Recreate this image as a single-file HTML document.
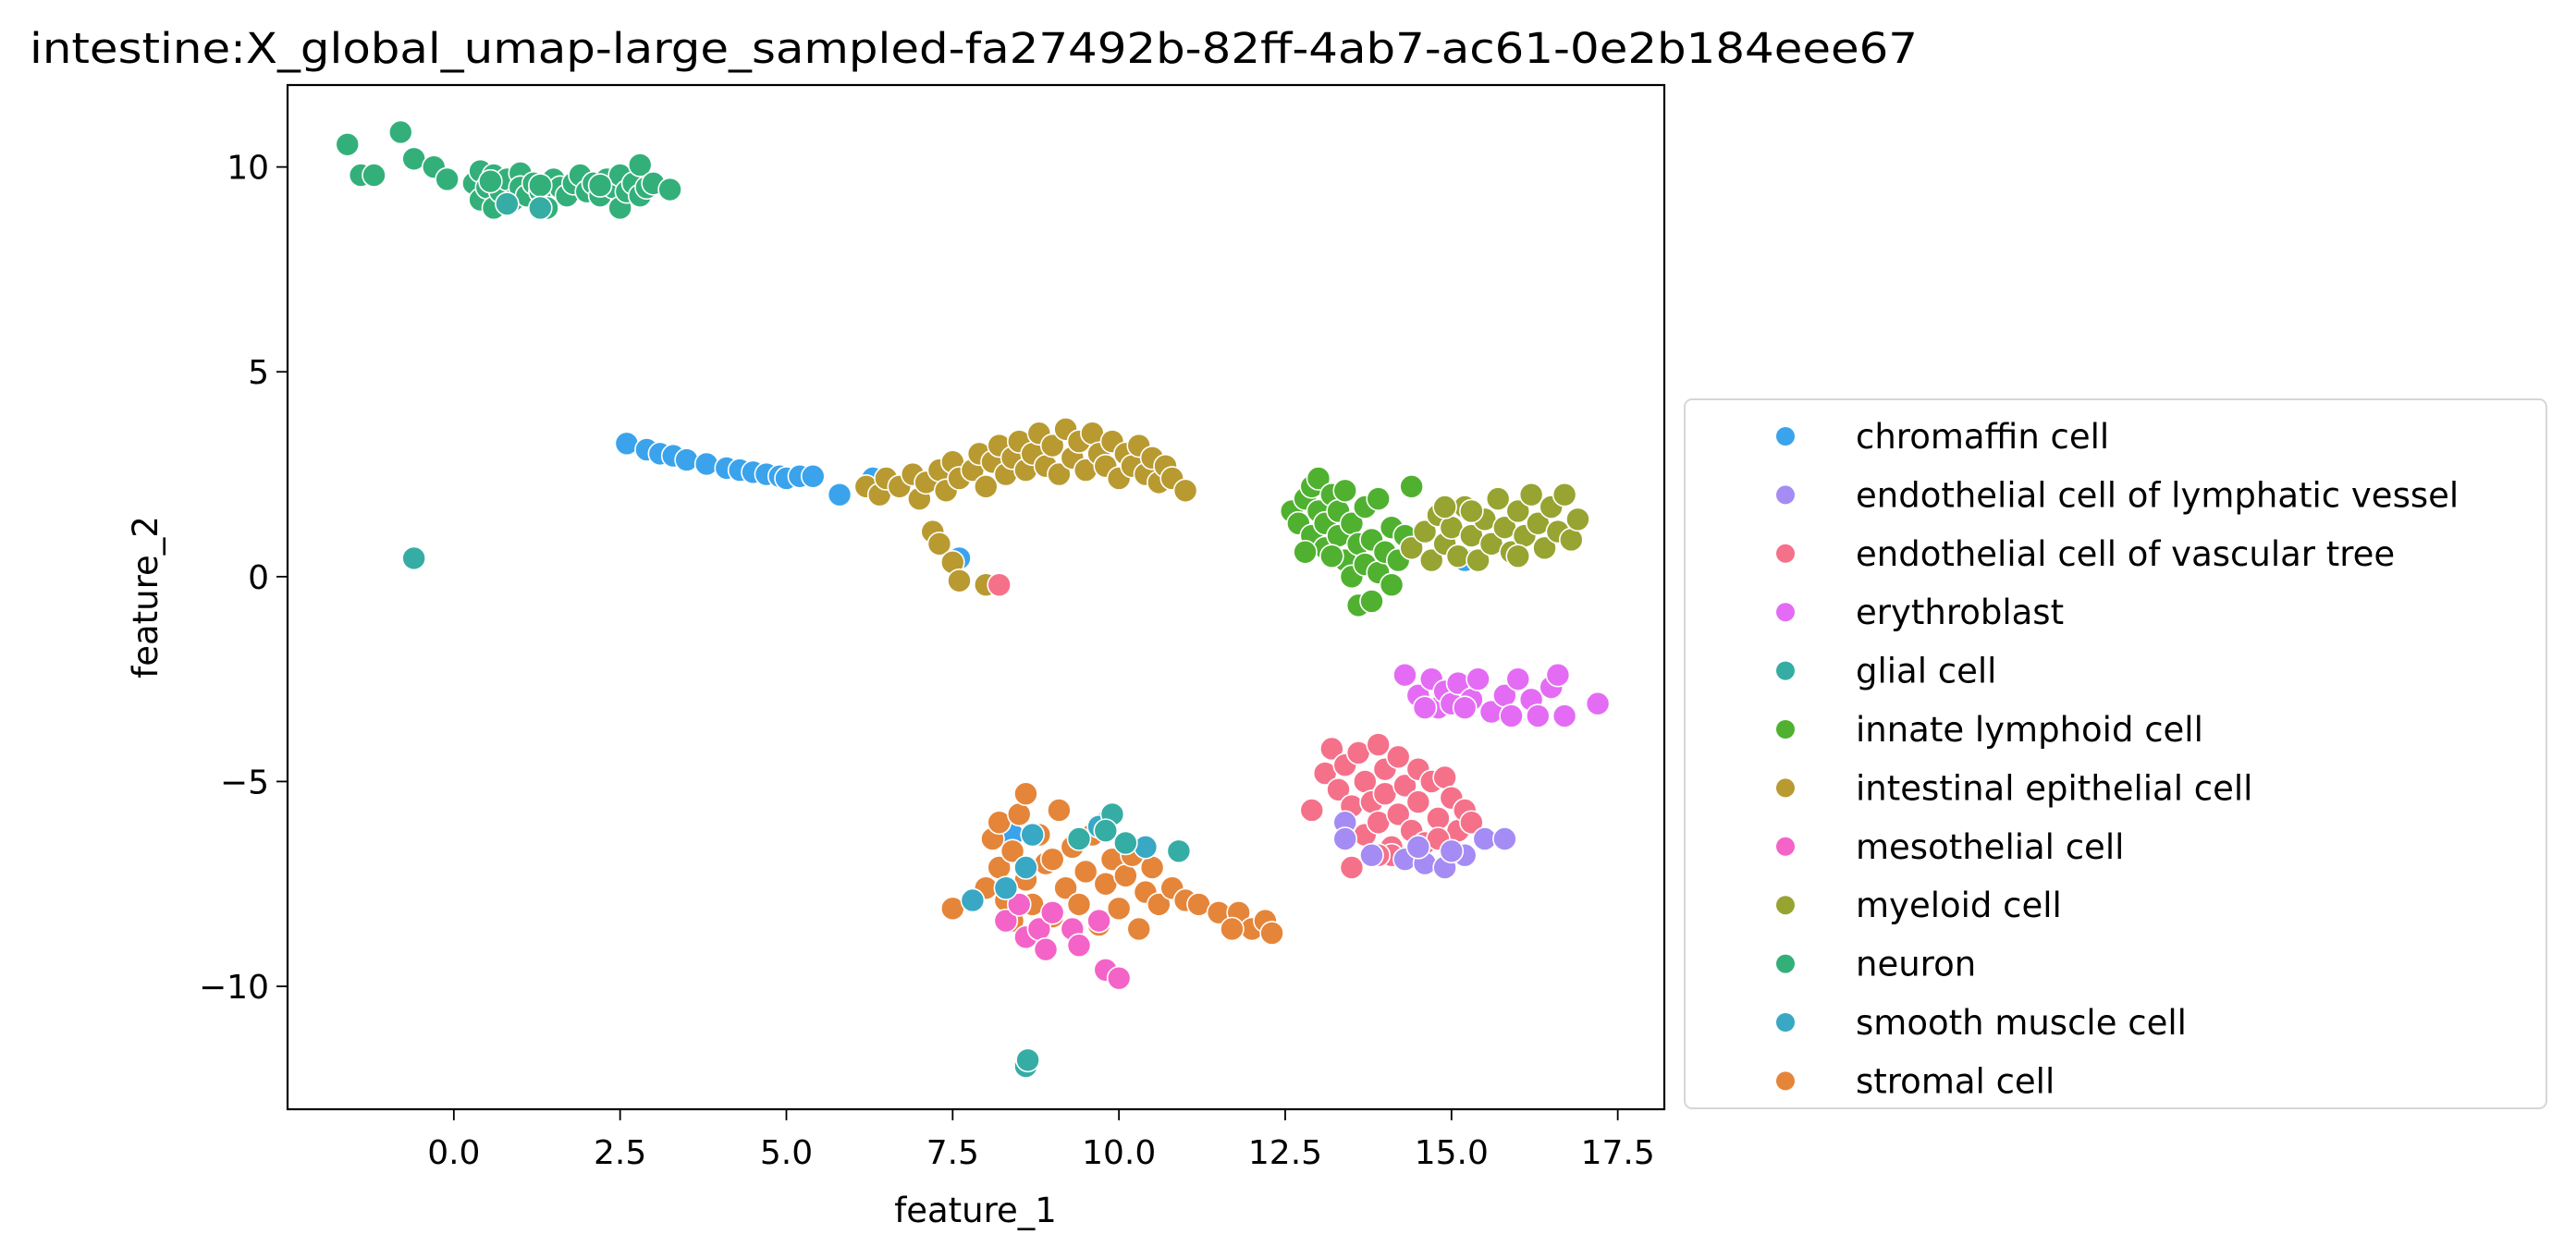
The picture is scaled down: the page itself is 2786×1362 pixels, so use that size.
<!DOCTYPE html>
<html><head><meta charset="utf-8"><style>
html,body{margin:0;padding:0;background:#fff;}
svg{display:block;font-family:"DejaVu Sans","Liberation Sans",sans-serif;}
</style></head><body>
<svg id="chart" width="2786" height="1362" viewBox="0 0 2786 1362" xmlns="http://www.w3.org/2000/svg">
<rect x="0" y="0" width="2786" height="1362" fill="#fff"/>
<text x="32" y="68" font-size="45" textLength="2042" lengthAdjust="spacingAndGlyphs" fill="#000">intestine:X_global_umap-large_sampled-fa27492b-82ff-4ab7-ac61-0e2b184eee67</text>
<g id="marks"></g>
<rect x="311" y="92" width="1489" height="1108" fill="none" stroke="#000" stroke-width="2.2"/>
<g id="xticks"></g>
<g id="yticks"></g>
<text x="1055" y="1322" font-size="37" text-anchor="middle">feature_1</text>
<text transform="translate(170,646) rotate(-90)" font-size="37" text-anchor="middle">feature_2</text>
<g id="legend"></g>
</svg>
<script>
const categories=["chromaffin cell","endothelial cell of lymphatic vessel","endothelial cell of vascular tree","erythroblast","glial cell","innate lymphoid cell","intestinal epithelial cell","mesothelial cell","myeloid cell","neuron","smooth muscle cell","stromal cell"];
const colors=["#3ba3ec","#a48cf4","#f5718a","#e46cf4","#36ada4","#50b131","#b89a31","#f463c8","#97a431","#33b07a","#38a8c5","#e5853a"];
const xTicks=[0,2.5,5,7.5,10,12.5,15,17.5];
const xTickLabels=["0.0","2.5","5.0","7.5","10.0","12.5","15.0","17.5"];
const yTicks=[-10,-5,0,5,10];
const yTickLabels=["\u221210","\u22125","0","5","10"];
const neuron=[[-1.6,10.55],[-1.4,9.8],[-1.2,9.8],[-0.8,10.85],[-0.6,10.2],[-0.3,10.0],[-0.1,9.7],[0.3,9.6],[0.4,9.2],[0.4,9.9],[0.5,9.5],[0.6,9.0],[0.6,9.8],[0.7,9.4],[0.8,9.7],[0.9,9.2],[1.0,9.85],[1.0,9.5],[1.1,9.3],[1.2,9.6],[1.3,9.4],[1.4,9.0],[1.5,9.7],[1.6,9.5],[1.7,9.3],[1.8,9.6],[1.9,9.8],[2.0,9.4],[2.1,9.6],[2.2,9.3],[2.3,9.7],[2.4,9.5],[2.5,9.8],[2.5,9.0],[2.6,9.4],[2.7,9.6],[2.8,10.05],[2.8,9.3],[2.9,9.5],[3.0,9.6],[3.25,9.45],[1.3,9.55],[0.55,9.65],[2.2,9.55]];
const chromaffin=[[2.6,3.25],[2.9,3.1],[3.1,3.0],[3.3,2.95],[3.5,2.85],[3.8,2.75],[4.1,2.65],[4.3,2.6],[4.5,2.55],[4.7,2.5],[4.9,2.45],[5.0,2.4],[5.2,2.45],[5.4,2.45],[5.8,2.0],[6.3,2.4],[7.6,0.45],[8.4,-6.3],[9.8,-6.0],[15.2,0.4]];
const epithelial=[[6.2,2.2],[6.4,2.0],[6.5,2.4],[6.7,2.2],[6.9,2.5],[7.0,1.9],[7.1,2.3],[7.3,2.6],[7.4,2.1],[7.5,2.8],[7.6,2.4],[7.8,2.6],[7.9,3.0],[8.0,2.2],[8.1,2.8],[8.2,3.2],[8.3,2.5],[8.4,2.9],[8.5,3.3],[8.6,2.6],[8.7,3.0],[8.8,3.5],[8.9,2.7],[9.0,3.2],[9.1,2.5],[9.2,3.6],[9.3,2.9],[9.4,3.3],[9.5,2.6],[9.6,3.5],[9.7,3.0],[9.8,2.7],[9.9,3.3],[10.0,2.4],[10.1,3.0],[10.2,2.7],[10.3,3.2],[10.4,2.5],[10.5,2.9],[10.6,2.3],[10.7,2.7],[10.8,2.4],[11.0,2.1],[7.2,1.1],[7.3,0.8],[7.5,0.35],[7.6,-0.1],[8.0,-0.2]];
const vascular=[[8.2,-0.2],[12.9,-5.7],[13.1,-4.8],[13.2,-4.2],[13.3,-5.2],[13.4,-4.6],[13.5,-5.6],[13.6,-4.3],[13.7,-5.0],[13.7,-6.3],[13.8,-5.5],[13.9,-4.1],[13.9,-6.0],[14.0,-4.7],[14.0,-5.3],[14.1,-6.6],[14.2,-4.4],[14.2,-5.8],[14.3,-5.1],[14.4,-6.2],[14.5,-4.7],[14.5,-5.5],[14.6,-6.5],[14.7,-5.0],[14.8,-5.9],[14.9,-4.9],[15.0,-5.4],[15.1,-6.2],[15.2,-5.7],[15.3,-6.0],[13.5,-7.1],[14.1,-6.8],[13.9,-6.8],[14.8,-6.4]];
const lymphatic=[[13.4,-6.0],[13.4,-6.4],[13.8,-6.8],[14.3,-6.9],[14.6,-7.0],[14.9,-7.1],[15.2,-6.8],[15.5,-6.4],[15.8,-6.4],[14.5,-6.6],[15.0,-6.7]];
const ilc=[[12.6,1.6],[12.7,1.3],[12.8,1.9],[12.9,2.2],[12.9,1.0],[13.0,1.6],[13.0,2.4],[13.1,0.7],[13.1,1.3],[13.2,2.0],[13.3,1.0],[13.3,1.6],[13.4,0.4],[13.4,2.1],[13.5,1.3],[13.5,0.0],[13.6,0.8],[13.6,-0.7],[13.7,1.7],[13.7,0.3],[13.8,-0.6],[13.8,0.9],[13.9,1.9],[13.9,0.1],[14.0,0.6],[14.1,-0.2],[14.1,1.2],[14.2,0.4],[14.4,2.2],[14.3,1.0],[13.2,0.5],[12.8,0.6]];
const myeloid=[[14.4,0.7],[14.6,1.1],[14.7,0.4],[14.8,1.5],[14.9,0.8],[15.0,1.2],[15.1,0.5],[15.2,1.7],[15.3,1.0],[15.4,0.4],[15.5,1.4],[15.6,0.8],[15.7,1.9],[15.8,1.2],[15.9,0.6],[16.0,1.6],[16.1,1.0],[16.2,2.0],[16.3,1.3],[16.4,0.7],[16.5,1.7],[16.6,1.1],[16.7,2.0],[16.8,0.9],[16.9,1.4],[15.3,1.6],[16.0,0.5],[14.9,1.7]];
const erythroblast=[[14.3,-2.4],[14.5,-2.9],[14.7,-2.5],[14.8,-3.2],[14.9,-2.8],[15.0,-3.1],[15.1,-2.6],[15.3,-3.0],[15.4,-2.5],[15.6,-3.3],[15.8,-2.9],[15.9,-3.4],[16.0,-2.5],[16.2,-3.0],[16.3,-3.4],[16.5,-2.7],[16.6,-2.4],[16.7,-3.4],[17.2,-3.1],[14.6,-3.2],[15.2,-3.2]];
const stromal=[[7.5,-8.1],[8.0,-7.6],[8.1,-6.4],[8.2,-6.0],[8.2,-7.1],[8.3,-7.9],[8.4,-6.7],[8.5,-5.8],[8.6,-5.3],[8.6,-7.4],[8.7,-8.0],[8.8,-6.3],[8.9,-7.0],[9.0,-8.3],[9.1,-5.7],[9.2,-7.6],[9.3,-6.6],[9.4,-8.0],[9.5,-7.2],[9.6,-6.3],[9.7,-8.5],[9.8,-7.5],[9.9,-6.9],[10.0,-8.1],[10.1,-7.3],[10.2,-6.8],[10.3,-8.6],[10.4,-7.7],[10.5,-7.1],[10.6,-8.0],[10.8,-7.6],[11.0,-7.9],[11.2,-8.0],[11.5,-8.2],[11.8,-8.2],[12.0,-8.6],[12.2,-8.4],[12.3,-8.7],[11.7,-8.6],[9.0,-6.9],[8.4,-8.4]];
const mesothelial=[[8.3,-8.4],[8.5,-8.0],[8.6,-8.8],[8.8,-8.6],[8.9,-9.1],[9.0,-8.2],[9.3,-8.6],[9.8,-9.6],[10.0,-9.8],[9.4,-9.0],[9.7,-8.4]];
const smooth=[[7.8,-7.9],[8.3,-7.6],[8.6,-7.1],[9.7,-6.1],[10.4,-6.6],[8.7,-6.3]];
const glial=[[-0.6,0.45],[8.6,-11.95],[8.63,-11.8],[9.9,-5.8],[9.4,-6.4],[10.1,-6.5],[10.9,-6.7],[9.8,-6.2],[0.8,9.1],[1.3,9.0]];
const seriesOrder=[[neuron,9],[chromaffin,0],[epithelial,6],[ilc,5],[myeloid,8],[erythroblast,3],[vascular,2],[lymphatic,1],[stromal,11],[mesothelial,7],[smooth,10],[glial,4]];

const NS="http://www.w3.org/2000/svg";
const X0=311,X1=1800,Y0=92,Y1=1200,XMIN=-2.5,XMAX=18.2,YMIN=-13,YMAX=12;
function sx(v){return X0+(v-XMIN)/(XMAX-XMIN)*(X1-X0);}
function sy(v){return Y1-(v-YMIN)/(YMAX-YMIN)*(Y1-Y0);}
function mk(tag,attrs,parent){const e=document.createElementNS(NS,tag);for(const k in attrs)e.setAttribute(k,attrs[k]);parent.appendChild(e);return e;}
const marks=document.getElementById('marks');
seriesOrder.forEach(([pts,ci])=>{
  pts.forEach(p=>{
    const c=mk('circle',{cx:sx(p[0]),cy:sy(p[1]),r:12.5,fill:colors[ci],stroke:'#fff','stroke-width':1.6},marks);
    
    
  });
});
const xg=document.getElementById('xticks');
xTicks.forEach((v,i)=>{
  const x=sx(v);
  const l=mk('line',{x1:x,x2:x,y1:Y1,y2:Y1+12,stroke:'#000','stroke-width':1.8},xg);
  
  
  const t=mk('text',{x:x,y:Y1+59,'font-size':36,'text-anchor':'middle'},xg);
  t.textContent=xTickLabels[i];
  
  
});
const yg=document.getElementById('yticks');
yTicks.forEach((v,i)=>{
  const y=sy(v);
  const l=mk('line',{x1:X0-12,x2:X0,y1:y,y2:y,stroke:'#000','stroke-width':1.8},yg);
  
  
  const t=mk('text',{x:X0-20,y:y+13,'font-size':36,'text-anchor':'end'},yg);
  t.textContent=yTickLabels[i];
  
  
});
const lg=document.getElementById('legend');
const box=mk('rect',{x:1822,y:432,width:932,height:767,rx:8,fill:'#fff',stroke:'#d6d6d6','stroke-width':2},lg);


categories.forEach((c,i)=>{
  const y=472+i*63.4;
  const m=mk('circle',{cx:1931,cy:y,r:10,fill:colors[i]},lg);
  
  
  const t=mk('text',{x:2007,y:y+13,'font-size':37},lg);
  t.textContent=c;
  
  
});
</script>
</body></html>
